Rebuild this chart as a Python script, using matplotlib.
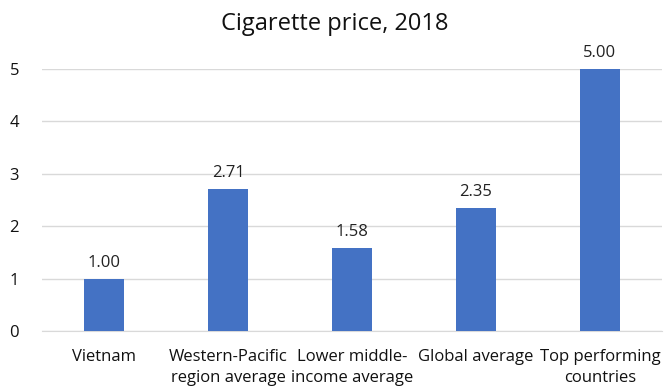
import matplotlib
matplotlib.use("Agg")
import matplotlib.pyplot as plt

categories = ["Vietnam", "Western-Pacific\nregion average", "Lower middle-\nincome average",
              "Global average", "Top performing\ncountries"]
prices = [1.00, 2.71, 1.58, 2.35, 5.00]
yticks = [0, 1, 2, 3, 4, 5]

plt.rcParams["font.family"] = ["Open Sans", "DejaVu Sans"]

fig = plt.figure(figsize=(6.69, 3.86), dpi=100)
ax = fig.add_axes([0.0628, 0.1425, 0.9267, 0.6787])

x = list(range(len(categories)))
ax.bar(x, prices, width=0.32, color="#4472C4", zorder=3)
for xi, v in zip(x, prices):
    ax.text(xi, v + 0.15, f"{v:.2f}", ha="center", va="bottom", fontsize=12,
            color="#222222", clip_on=False)

ax.set_xlim(-0.5, len(categories) - 0.5)
ax.set_ylim(0, 5)
ax.set_yticks(yticks)
ax.set_yticklabels([str(t) for t in yticks])
ax.set_xticks(x)
ax.set_xticklabels(categories, fontsize=12, linespacing=1.45, color="#111111")
ax.tick_params(axis="y", length=0, pad=20, labelsize=12, labelcolor="#111111")
ax.tick_params(axis="x", length=0, pad=13)
for lbl in ax.get_yticklabels():
    lbl.set_horizontalalignment("center")
ax.grid(axis="y", color="#d9d9d9", linewidth=1, zorder=0)
for s in ["top", "right", "left"]:
    ax.spines[s].set_visible(False)
ax.spines["bottom"].set_color("#d9d9d9")
ax.spines["bottom"].set_zorder(1)

fig.text(0.5, 0.938, "Cigarette price, 2018", ha="center", va="center", fontsize=17,
         color="#111111")

fig.savefig("out.png", dpi=100)
